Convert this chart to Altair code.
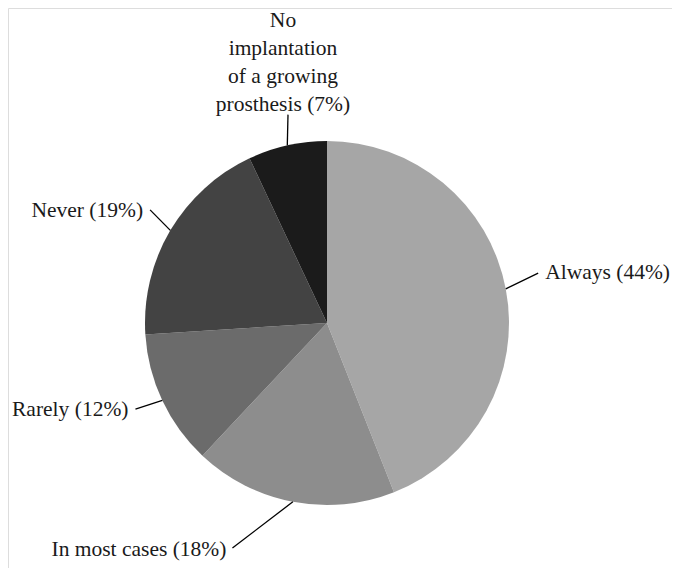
import math
import altair as alt
import pandas as pd

# ---- data ----
categories = ["Always", "In most cases", "Rarely", "Never",
              "No implantation of a growing prosthesis"]
percent = [44, 18, 12, 19, 7]
label_text = ["Always (44%)", "In most cases (18%)", "Rarely (12%)", "Never (19%)",
              "No\nimplantation\nof a growing\nprosthesis (7%)"]

# ---- style / layout ----
colors = ["#a6a6a6", "#8d8d8d", "#6b6b6b", "#434343", "#1b1b1b"]
R = 182
CX, CY = 319, 315          # pie centre inside the plot area (px)
W, H = 664, 560
# per label: leader end radius, angular nudge (deg), text offset (dx, dy in px, y down), align, baseline
lead_r = [217, 244, 210, 210, 212]
lead_nudge = [-2.5, 12, 1, 2, 2]
txt_dx = [7, -6, -7, -7, -5]
txt_dy = [0, 2, 1, 1, -88]
aligns = ["left", "right", "right", "right", "center"]
baselines = ["middle", "middle", "middle", "middle", "alphabetic"]

total = sum(percent)
rows = []
cum = 0
for i, (c, p) in enumerate(zip(categories, percent)):
    mid = (cum + p / 2) / total * 360
    cum += p
    a0 = math.radians(mid)
    a1 = math.radians(mid + lead_nudge[i])
    x0, y0 = R * math.sin(a0), R * math.cos(a0)
    x1, y1 = lead_r[i] * math.sin(a1), lead_r[i] * math.cos(a1)
    rows.append(dict(cat=c, pct=p, order=i, label=label_text[i],
                     x0=x0, y0=y0, x1=x1, y1=y1,
                     tx=x1 + txt_dx[i], ty=y1 - txt_dy[i]))
df = pd.DataFrame(rows)

xs = alt.Scale(domain=[-CX, W - CX], range=[0, W], nice=False, zero=False)
ys = alt.Scale(domain=[-(H - CY), CY], range=[H, 0], nice=False, zero=False)

pie = alt.Chart(df).mark_arc(outerRadius=R, strokeWidth=0).encode(
    x=alt.X(datum=0, scale=xs, axis=None),
    y=alt.Y(datum=0, scale=ys, axis=None),
    theta=alt.Theta("pct:Q", stack=True),
    order=alt.Order("order:Q"),
    color=alt.Color("cat:N", scale=alt.Scale(domain=categories, range=colors), legend=None),
)

leaders = alt.Chart(df).mark_rule(color="#000000", strokeWidth=1.3).encode(
    x=alt.X("x0:Q", scale=xs, axis=None),
    y=alt.Y("y0:Q", scale=ys, axis=None),
    x2="x1:Q",
    y2="y1:Q",
)

layers = [pie, leaders]
for i in range(len(categories)):
    t = alt.Chart(df[df.order == i]).mark_text(
        font="Liberation Serif", fontSize=21.5, color="#1a1a1a",
        align=aligns[i], baseline=baselines[i], lineBreak="\n", lineHeight=28,
    ).encode(
        x=alt.X("tx:Q", scale=xs, axis=None),
        y=alt.Y("ty:Q", scale=ys, axis=None),
        text="label:N",
    )
    layers.append(t)

chart = alt.layer(*layers).properties(
    width=W, height=H, autosize=alt.AutoSizeParams(type="none"), padding=0
).configure_view(stroke="transparent", strokeWidth=0).configure(background="#ffffff")

chart.save("out.html", embed_options={"renderer": "svg", "actions": False})
